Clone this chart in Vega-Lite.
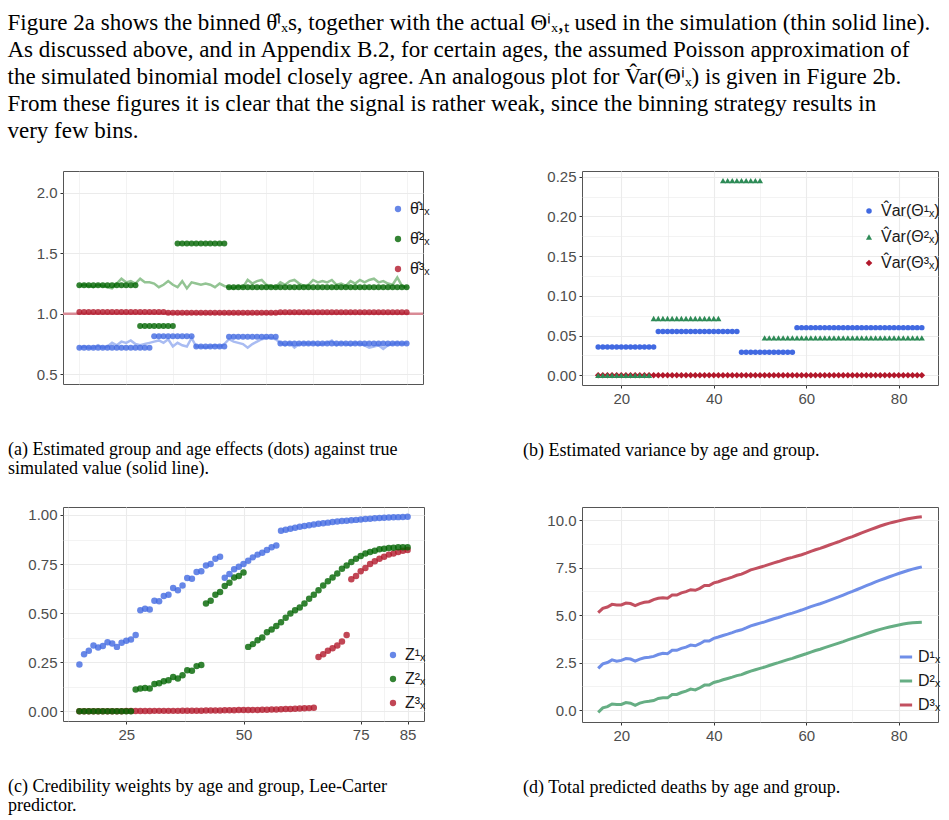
{
"$schema": "https://vega.github.io/schema/vega-lite/v6.json",
"padding": {"left": 7, "top": 12, "right": 4, "bottom": 4},
"background": "white",
"title": {
  "text": [
    "Figure 2a shows the binned θ̂ⁱₓs, together with the actual Θⁱₓ,ₜ used in the simulation (thin solid line).",
    "As discussed above, and in Appendix B.2, for certain ages, the assumed Poisson approximation of",
    "the simulated binomial model closely agree. An analogous plot for V̂ar(Θⁱₓ) is given in Figure 2b.",
    "From these figures it is clear that the signal is rather weak, since the binning strategy results in",
    "very few bins."
  ],
  "anchor": "start", "frame": "bounds", "orient": "top",
  "font": "Liberation Serif", "fontSize": 23, "fontWeight": "normal", "color": "#000000",
  "lineHeight": 27, "offset": 26
},
"config": {
  "view": {"stroke": "#555555", "strokeWidth": 1},
  "axis": {"domain": false, "labelFont": "Liberation Sans", "labelFontSize": 15, "labelColor": "#4D4D4D", "labelPadding": 3, "tickSize": 3, "tickColor": "#333333", "gridColor": "#EBEBEB", "labelOverlap": false, "labelFlush": false},
  "legend": {"labelFont": "Liberation Sans", "labelFontSize": 16, "labelColor": "#1a1a1a"},
  "title": {"font": "Liberation Serif", "fontSize": 18, "fontWeight": "normal", "color": "#000000"}
},
"resolve": {"scale": {"color": "independent", "shape": "independent", "stroke": "independent", "size": "independent"}, "legend": {"color": "independent", "shape": "independent", "stroke": "independent", "size": "independent"}},
"datasets": {
  "hat": [
    {"a":15,"g":1,"y":0.72},{"a":16,"g":1,"y":0.72},{"a":17,"g":1,"y":0.72},{"a":18,"g":1,"y":0.72},{"a":19,"g":1,"y":0.72},{"a":20,"g":1,"y":0.72},{"a":21,"g":1,"y":0.72},{"a":22,"g":1,"y":0.72},{"a":23,"g":1,"y":0.72},{"a":24,"g":1,"y":0.72},{"a":25,"g":1,"y":0.72},{"a":26,"g":1,"y":0.72},{"a":27,"g":1,"y":0.72},{"a":28,"g":1,"y":0.72},{"a":29,"g":1,"y":0.72},{"a":30,"g":1,"y":0.72},
    {"a":31,"g":1,"y":0.815},{"a":32,"g":1,"y":0.815},{"a":33,"g":1,"y":0.815},{"a":34,"g":1,"y":0.815},{"a":35,"g":1,"y":0.815},{"a":36,"g":1,"y":0.815},{"a":37,"g":1,"y":0.815},{"a":38,"g":1,"y":0.815},{"a":39,"g":1,"y":0.815},
    {"a":40,"g":1,"y":0.73},{"a":41,"g":1,"y":0.73},{"a":42,"g":1,"y":0.73},{"a":43,"g":1,"y":0.73},{"a":44,"g":1,"y":0.73},{"a":45,"g":1,"y":0.73},{"a":46,"g":1,"y":0.73},
    {"a":47,"g":1,"y":0.81},{"a":48,"g":1,"y":0.81},{"a":49,"g":1,"y":0.81},{"a":50,"g":1,"y":0.81},{"a":51,"g":1,"y":0.81},{"a":52,"g":1,"y":0.81},{"a":53,"g":1,"y":0.81},{"a":54,"g":1,"y":0.81},{"a":55,"g":1,"y":0.81},{"a":56,"g":1,"y":0.81},{"a":57,"g":1,"y":0.81},
    {"a":58,"g":1,"y":0.755},{"a":59,"g":1,"y":0.755},{"a":60,"g":1,"y":0.755},{"a":61,"g":1,"y":0.755},{"a":62,"g":1,"y":0.755},{"a":63,"g":1,"y":0.755},{"a":64,"g":1,"y":0.755},{"a":65,"g":1,"y":0.755},{"a":66,"g":1,"y":0.755},{"a":67,"g":1,"y":0.755},{"a":68,"g":1,"y":0.755},{"a":69,"g":1,"y":0.755},{"a":70,"g":1,"y":0.755},{"a":71,"g":1,"y":0.755},{"a":72,"g":1,"y":0.755},{"a":73,"g":1,"y":0.755},{"a":74,"g":1,"y":0.755},{"a":75,"g":1,"y":0.755},{"a":76,"g":1,"y":0.755},{"a":77,"g":1,"y":0.755},{"a":78,"g":1,"y":0.755},{"a":79,"g":1,"y":0.755},{"a":80,"g":1,"y":0.755},{"a":81,"g":1,"y":0.755},{"a":82,"g":1,"y":0.755},{"a":83,"g":1,"y":0.755},{"a":84,"g":1,"y":0.755},{"a":85,"g":1,"y":0.755},
    {"a":15,"g":2,"y":1.235},{"a":16,"g":2,"y":1.235},{"a":17,"g":2,"y":1.235},{"a":18,"g":2,"y":1.235},{"a":19,"g":2,"y":1.235},{"a":20,"g":2,"y":1.235},{"a":21,"g":2,"y":1.235},{"a":22,"g":2,"y":1.235},{"a":23,"g":2,"y":1.235},{"a":24,"g":2,"y":1.235},{"a":25,"g":2,"y":1.235},{"a":26,"g":2,"y":1.235},{"a":27,"g":2,"y":1.235},
    {"a":28,"g":2,"y":0.9},{"a":29,"g":2,"y":0.9},{"a":30,"g":2,"y":0.9},{"a":31,"g":2,"y":0.9},{"a":32,"g":2,"y":0.9},{"a":33,"g":2,"y":0.9},{"a":34,"g":2,"y":0.9},{"a":35,"g":2,"y":0.9},
    {"a":36,"g":2,"y":1.58},{"a":37,"g":2,"y":1.58},{"a":38,"g":2,"y":1.58},{"a":39,"g":2,"y":1.58},{"a":40,"g":2,"y":1.58},{"a":41,"g":2,"y":1.58},{"a":42,"g":2,"y":1.58},{"a":43,"g":2,"y":1.58},{"a":44,"g":2,"y":1.58},{"a":45,"g":2,"y":1.58},{"a":46,"g":2,"y":1.58},
    {"a":47,"g":2,"y":1.22},{"a":48,"g":2,"y":1.22},{"a":49,"g":2,"y":1.22},{"a":50,"g":2,"y":1.22},{"a":51,"g":2,"y":1.22},{"a":52,"g":2,"y":1.22},{"a":53,"g":2,"y":1.22},{"a":54,"g":2,"y":1.22},{"a":55,"g":2,"y":1.22},{"a":56,"g":2,"y":1.22},{"a":57,"g":2,"y":1.22},{"a":58,"g":2,"y":1.22},{"a":59,"g":2,"y":1.22},{"a":60,"g":2,"y":1.22},{"a":61,"g":2,"y":1.22},{"a":62,"g":2,"y":1.22},{"a":63,"g":2,"y":1.22},{"a":64,"g":2,"y":1.22},{"a":65,"g":2,"y":1.22},{"a":66,"g":2,"y":1.22},{"a":67,"g":2,"y":1.22},{"a":68,"g":2,"y":1.22},{"a":69,"g":2,"y":1.22},{"a":70,"g":2,"y":1.22},{"a":71,"g":2,"y":1.22},{"a":72,"g":2,"y":1.22},{"a":73,"g":2,"y":1.22},{"a":74,"g":2,"y":1.22},{"a":75,"g":2,"y":1.22},{"a":76,"g":2,"y":1.22},{"a":77,"g":2,"y":1.22},{"a":78,"g":2,"y":1.22},{"a":79,"g":2,"y":1.22},{"a":80,"g":2,"y":1.22},{"a":81,"g":2,"y":1.22},{"a":82,"g":2,"y":1.22},{"a":83,"g":2,"y":1.22},{"a":84,"g":2,"y":1.22},{"a":85,"g":2,"y":1.22},
    {"a":15,"g":3,"y":1.015},{"a":16,"g":3,"y":1.015},{"a":17,"g":3,"y":1.015},{"a":18,"g":3,"y":1.015},{"a":19,"g":3,"y":1.015},{"a":20,"g":3,"y":1.015},{"a":21,"g":3,"y":1.015},{"a":22,"g":3,"y":1.015},{"a":23,"g":3,"y":1.015},{"a":24,"g":3,"y":1.015},{"a":25,"g":3,"y":1.015},{"a":26,"g":3,"y":1.015},{"a":27,"g":3,"y":1.015},{"a":28,"g":3,"y":1.015},{"a":29,"g":3,"y":1.015},{"a":30,"g":3,"y":1.015},{"a":31,"g":3,"y":1.015},{"a":32,"g":3,"y":1.015},{"a":33,"g":3,"y":1.015},
    {"a":34,"g":3,"y":1.008},{"a":35,"g":3,"y":1.008},{"a":36,"g":3,"y":1.008},{"a":37,"g":3,"y":1.008},{"a":38,"g":3,"y":1.008},{"a":39,"g":3,"y":1.008},{"a":40,"g":3,"y":1.008},{"a":41,"g":3,"y":1.008},{"a":42,"g":3,"y":1.008},{"a":43,"g":3,"y":1.008},{"a":44,"g":3,"y":1.008},{"a":45,"g":3,"y":1.008},{"a":46,"g":3,"y":1.008},{"a":47,"g":3,"y":1.008},{"a":48,"g":3,"y":1.008},{"a":49,"g":3,"y":1.008},{"a":50,"g":3,"y":1.008},{"a":51,"g":3,"y":1.008},{"a":52,"g":3,"y":1.008},{"a":53,"g":3,"y":1.008},{"a":54,"g":3,"y":1.008},{"a":55,"g":3,"y":1.008},{"a":56,"g":3,"y":1.008},{"a":57,"g":3,"y":1.008},
    {"a":58,"g":3,"y":1.012},{"a":59,"g":3,"y":1.012},{"a":60,"g":3,"y":1.012},{"a":61,"g":3,"y":1.012},{"a":62,"g":3,"y":1.012},{"a":63,"g":3,"y":1.012},{"a":64,"g":3,"y":1.012},{"a":65,"g":3,"y":1.012},{"a":66,"g":3,"y":1.012},{"a":67,"g":3,"y":1.012},{"a":68,"g":3,"y":1.012},{"a":69,"g":3,"y":1.012},{"a":70,"g":3,"y":1.012},{"a":71,"g":3,"y":1.012},{"a":72,"g":3,"y":1.012},{"a":73,"g":3,"y":1.012},{"a":74,"g":3,"y":1.012},{"a":75,"g":3,"y":1.012},{"a":76,"g":3,"y":1.012},{"a":77,"g":3,"y":1.012},{"a":78,"g":3,"y":1.012},{"a":79,"g":3,"y":1.012},{"a":80,"g":3,"y":1.012},{"a":81,"g":3,"y":1.012},{"a":82,"g":3,"y":1.012},{"a":83,"g":3,"y":1.012},{"a":84,"g":3,"y":1.012},{"a":85,"g":3,"y":1.012}
  ],
  "tru": [
    {"a":15,"g":1,"y":0.72},{"a":16,"g":1,"y":0.73},{"a":17,"g":1,"y":0.72},{"a":18,"g":1,"y":0.72},{"a":19,"g":1,"y":0.74},{"a":20,"g":1,"y":0.72},{"a":21,"g":1,"y":0.73},{"a":22,"g":1,"y":0.76},{"a":23,"g":1,"y":0.74},{"a":24,"g":1,"y":0.77},{"a":25,"g":1,"y":0.76},{"a":26,"g":1,"y":0.78},{"a":27,"g":1,"y":0.75},{"a":28,"g":1,"y":0.74},{"a":29,"g":1,"y":0.75},{"a":30,"g":1,"y":0.76},{"a":31,"g":1,"y":0.77},{"a":32,"g":1,"y":0.78},{"a":33,"g":1,"y":0.76},{"a":34,"g":1,"y":0.79},{"a":35,"g":1,"y":0.73},{"a":36,"g":1,"y":0.76},{"a":37,"g":1,"y":0.74},{"a":38,"g":1,"y":0.73},{"a":39,"g":1,"y":0.8},{"a":40,"g":1,"y":0.73},{"a":41,"g":1,"y":0.73},{"a":42,"g":1,"y":0.72},{"a":43,"g":1,"y":0.73},{"a":44,"g":1,"y":0.74},{"a":45,"g":1,"y":0.73},{"a":46,"g":1,"y":0.75},{"a":47,"g":1,"y":0.79},{"a":48,"g":1,"y":0.77},{"a":49,"g":1,"y":0.76},{"a":50,"g":1,"y":0.75},{"a":51,"g":1,"y":0.72},{"a":52,"g":1,"y":0.75},{"a":53,"g":1,"y":0.77},{"a":54,"g":1,"y":0.79},{"a":55,"g":1,"y":0.8},{"a":56,"g":1,"y":0.8},{"a":57,"g":1,"y":0.79},{"a":58,"g":1,"y":0.76},{"a":59,"g":1,"y":0.74},{"a":60,"g":1,"y":0.76},{"a":61,"g":1,"y":0.72},{"a":62,"g":1,"y":0.75},{"a":63,"g":1,"y":0.76},{"a":64,"g":1,"y":0.75},{"a":65,"g":1,"y":0.76},{"a":66,"g":1,"y":0.74},{"a":67,"g":1,"y":0.75},{"a":68,"g":1,"y":0.76},{"a":69,"g":1,"y":0.78},{"a":70,"g":1,"y":0.74},{"a":71,"g":1,"y":0.76},{"a":72,"g":1,"y":0.75},{"a":73,"g":1,"y":0.74},{"a":74,"g":1,"y":0.76},{"a":75,"g":1,"y":0.75},{"a":76,"g":1,"y":0.74},{"a":77,"g":1,"y":0.72},{"a":78,"g":1,"y":0.73},{"a":79,"g":1,"y":0.74},{"a":80,"g":1,"y":0.71},{"a":81,"g":1,"y":0.74},{"a":82,"g":1,"y":0.75},{"a":83,"g":1,"y":0.76},{"a":84,"g":1,"y":0.75},{"a":85,"g":1,"y":0.76},
    {"a":15,"g":2,"y":1.23},{"a":16,"g":2,"y":1.24},{"a":17,"g":2,"y":1.23},{"a":18,"g":2,"y":1.22},{"a":19,"g":2,"y":1.24},{"a":20,"g":2,"y":1.23},{"a":21,"g":2,"y":1.22},{"a":22,"g":2,"y":1.21},{"a":23,"g":2,"y":1.25},{"a":24,"g":2,"y":1.29},{"a":25,"g":2,"y":1.26},{"a":26,"g":2,"y":1.27},{"a":27,"g":2,"y":1.25},{"a":28,"g":2,"y":1.29},{"a":29,"g":2,"y":1.26},{"a":30,"g":2,"y":1.26},{"a":31,"g":2,"y":1.25},{"a":32,"g":2,"y":1.22},{"a":33,"g":2,"y":1.24},{"a":34,"g":2,"y":1.27},{"a":35,"g":2,"y":1.24},{"a":36,"g":2,"y":1.22},{"a":37,"g":2,"y":1.27},{"a":38,"g":2,"y":1.21},{"a":39,"g":2,"y":1.26},{"a":40,"g":2,"y":1.25},{"a":41,"g":2,"y":1.24},{"a":42,"g":2,"y":1.25},{"a":43,"g":2,"y":1.24},{"a":44,"g":2,"y":1.22},{"a":45,"g":2,"y":1.25},{"a":46,"g":2,"y":1.23},{"a":47,"g":2,"y":1.22},{"a":48,"g":2,"y":1.21},{"a":49,"g":2,"y":1.23},{"a":50,"g":2,"y":1.22},{"a":51,"g":2,"y":1.28},{"a":52,"g":2,"y":1.25},{"a":53,"g":2,"y":1.27},{"a":54,"g":2,"y":1.28},{"a":55,"g":2,"y":1.24},{"a":56,"g":2,"y":1.23},{"a":57,"g":2,"y":1.22},{"a":58,"g":2,"y":1.26},{"a":59,"g":2,"y":1.24},{"a":60,"g":2,"y":1.27},{"a":61,"g":2,"y":1.28},{"a":62,"g":2,"y":1.25},{"a":63,"g":2,"y":1.23},{"a":64,"g":2,"y":1.24},{"a":65,"g":2,"y":1.28},{"a":66,"g":2,"y":1.26},{"a":67,"g":2,"y":1.27},{"a":68,"g":2,"y":1.26},{"a":69,"g":2,"y":1.28},{"a":70,"g":2,"y":1.24},{"a":71,"g":2,"y":1.25},{"a":72,"g":2,"y":1.23},{"a":73,"g":2,"y":1.27},{"a":74,"g":2,"y":1.25},{"a":75,"g":2,"y":1.28},{"a":76,"g":2,"y":1.26},{"a":77,"g":2,"y":1.28},{"a":78,"g":2,"y":1.29},{"a":79,"g":2,"y":1.26},{"a":80,"g":2,"y":1.27},{"a":81,"g":2,"y":1.25},{"a":82,"g":2,"y":1.24},{"a":83,"g":2,"y":1.3},{"a":84,"g":2,"y":1.23},{"a":85,"g":2,"y":1.22}
  ],
  "one": [{"g":3,"y":1}],
  "vr": [
    {"a":15,"g":3,"y":0},{"a":16,"g":3,"y":0},{"a":17,"g":3,"y":0},{"a":18,"g":3,"y":0},{"a":19,"g":3,"y":0},{"a":20,"g":3,"y":0},{"a":21,"g":3,"y":0},{"a":22,"g":3,"y":0},{"a":23,"g":3,"y":0},{"a":24,"g":3,"y":0},{"a":25,"g":3,"y":0},{"a":26,"g":3,"y":0},{"a":27,"g":3,"y":0},{"a":28,"g":3,"y":0},{"a":29,"g":3,"y":0},{"a":30,"g":3,"y":0},{"a":31,"g":3,"y":0},{"a":32,"g":3,"y":0},{"a":33,"g":3,"y":0},{"a":34,"g":3,"y":0},{"a":35,"g":3,"y":0},{"a":36,"g":3,"y":0},{"a":37,"g":3,"y":0},{"a":38,"g":3,"y":0},{"a":39,"g":3,"y":0},{"a":40,"g":3,"y":0},{"a":41,"g":3,"y":0},{"a":42,"g":3,"y":0},{"a":43,"g":3,"y":0},{"a":44,"g":3,"y":0},{"a":45,"g":3,"y":0},{"a":46,"g":3,"y":0},{"a":47,"g":3,"y":0},{"a":48,"g":3,"y":0},{"a":49,"g":3,"y":0},{"a":50,"g":3,"y":0},{"a":51,"g":3,"y":0},{"a":52,"g":3,"y":0},{"a":53,"g":3,"y":0},{"a":54,"g":3,"y":0},{"a":55,"g":3,"y":0},{"a":56,"g":3,"y":0},{"a":57,"g":3,"y":0},{"a":58,"g":3,"y":0},{"a":59,"g":3,"y":0},{"a":60,"g":3,"y":0},{"a":61,"g":3,"y":0},{"a":62,"g":3,"y":0},{"a":63,"g":3,"y":0},{"a":64,"g":3,"y":0},{"a":65,"g":3,"y":0},{"a":66,"g":3,"y":0},{"a":67,"g":3,"y":0},{"a":68,"g":3,"y":0},{"a":69,"g":3,"y":0},{"a":70,"g":3,"y":0},{"a":71,"g":3,"y":0},{"a":72,"g":3,"y":0},{"a":73,"g":3,"y":0},{"a":74,"g":3,"y":0},{"a":75,"g":3,"y":0},{"a":76,"g":3,"y":0},{"a":77,"g":3,"y":0},{"a":78,"g":3,"y":0},{"a":79,"g":3,"y":0},{"a":80,"g":3,"y":0},{"a":81,"g":3,"y":0},{"a":82,"g":3,"y":0},{"a":83,"g":3,"y":0},{"a":84,"g":3,"y":0},{"a":85,"g":3,"y":0},
    {"a":15,"g":1,"y":0.0355},{"a":16,"g":1,"y":0.0355},{"a":17,"g":1,"y":0.0355},{"a":18,"g":1,"y":0.0355},{"a":19,"g":1,"y":0.0355},{"a":20,"g":1,"y":0.0355},{"a":21,"g":1,"y":0.0355},{"a":22,"g":1,"y":0.0355},{"a":23,"g":1,"y":0.0355},{"a":24,"g":1,"y":0.0355},{"a":25,"g":1,"y":0.0355},{"a":26,"g":1,"y":0.0355},{"a":27,"g":1,"y":0.0355},
    {"a":28,"g":1,"y":0.055},{"a":29,"g":1,"y":0.055},{"a":30,"g":1,"y":0.055},{"a":31,"g":1,"y":0.055},{"a":32,"g":1,"y":0.055},{"a":33,"g":1,"y":0.055},{"a":34,"g":1,"y":0.055},{"a":35,"g":1,"y":0.055},{"a":36,"g":1,"y":0.055},{"a":37,"g":1,"y":0.055},{"a":38,"g":1,"y":0.055},{"a":39,"g":1,"y":0.055},{"a":40,"g":1,"y":0.055},{"a":41,"g":1,"y":0.055},{"a":42,"g":1,"y":0.055},{"a":43,"g":1,"y":0.055},{"a":44,"g":1,"y":0.055},{"a":45,"g":1,"y":0.055},
    {"a":46,"g":1,"y":0.029},{"a":47,"g":1,"y":0.029},{"a":48,"g":1,"y":0.029},{"a":49,"g":1,"y":0.029},{"a":50,"g":1,"y":0.029},{"a":51,"g":1,"y":0.029},{"a":52,"g":1,"y":0.029},{"a":53,"g":1,"y":0.029},{"a":54,"g":1,"y":0.029},{"a":55,"g":1,"y":0.029},{"a":56,"g":1,"y":0.029},{"a":57,"g":1,"y":0.029},
    {"a":58,"g":1,"y":0.06},{"a":59,"g":1,"y":0.06},{"a":60,"g":1,"y":0.06},{"a":61,"g":1,"y":0.06},{"a":62,"g":1,"y":0.06},{"a":63,"g":1,"y":0.06},{"a":64,"g":1,"y":0.06},{"a":65,"g":1,"y":0.06},{"a":66,"g":1,"y":0.06},{"a":67,"g":1,"y":0.06},{"a":68,"g":1,"y":0.06},{"a":69,"g":1,"y":0.06},{"a":70,"g":1,"y":0.06},{"a":71,"g":1,"y":0.06},{"a":72,"g":1,"y":0.06},{"a":73,"g":1,"y":0.06},{"a":74,"g":1,"y":0.06},{"a":75,"g":1,"y":0.06},{"a":76,"g":1,"y":0.06},{"a":77,"g":1,"y":0.06},{"a":78,"g":1,"y":0.06},{"a":79,"g":1,"y":0.06},{"a":80,"g":1,"y":0.06},{"a":81,"g":1,"y":0.06},{"a":82,"g":1,"y":0.06},{"a":83,"g":1,"y":0.06},{"a":84,"g":1,"y":0.06},{"a":85,"g":1,"y":0.06},
    {"a":15,"g":2,"y":0},{"a":16,"g":2,"y":0},{"a":17,"g":2,"y":0},{"a":18,"g":2,"y":0},{"a":19,"g":2,"y":0},{"a":20,"g":2,"y":0},{"a":21,"g":2,"y":0},{"a":22,"g":2,"y":0},{"a":23,"g":2,"y":0},{"a":24,"g":2,"y":0},{"a":25,"g":2,"y":0},{"a":26,"g":2,"y":0},
    {"a":27,"g":2,"y":0.0715},{"a":28,"g":2,"y":0.0715},{"a":29,"g":2,"y":0.0715},{"a":30,"g":2,"y":0.0715},{"a":31,"g":2,"y":0.0715},{"a":32,"g":2,"y":0.0715},{"a":33,"g":2,"y":0.0715},{"a":34,"g":2,"y":0.0715},{"a":35,"g":2,"y":0.0715},{"a":36,"g":2,"y":0.0715},{"a":37,"g":2,"y":0.0715},{"a":38,"g":2,"y":0.0715},{"a":39,"g":2,"y":0.0715},{"a":40,"g":2,"y":0.0715},{"a":41,"g":2,"y":0.0715},
    {"a":42,"g":2,"y":0.245},{"a":43,"g":2,"y":0.245},{"a":44,"g":2,"y":0.245},{"a":45,"g":2,"y":0.245},{"a":46,"g":2,"y":0.245},{"a":47,"g":2,"y":0.245},{"a":48,"g":2,"y":0.245},{"a":49,"g":2,"y":0.245},{"a":50,"g":2,"y":0.245},
    {"a":51,"g":2,"y":0.047},{"a":52,"g":2,"y":0.047},{"a":53,"g":2,"y":0.047},{"a":54,"g":2,"y":0.047},{"a":55,"g":2,"y":0.047},{"a":56,"g":2,"y":0.047},{"a":57,"g":2,"y":0.047},{"a":58,"g":2,"y":0.047},{"a":59,"g":2,"y":0.047},{"a":60,"g":2,"y":0.047},{"a":61,"g":2,"y":0.047},{"a":62,"g":2,"y":0.047},{"a":63,"g":2,"y":0.047},{"a":64,"g":2,"y":0.047},{"a":65,"g":2,"y":0.047},{"a":66,"g":2,"y":0.047},{"a":67,"g":2,"y":0.047},{"a":68,"g":2,"y":0.047},{"a":69,"g":2,"y":0.047},{"a":70,"g":2,"y":0.047},{"a":71,"g":2,"y":0.047},{"a":72,"g":2,"y":0.047},{"a":73,"g":2,"y":0.047},{"a":74,"g":2,"y":0.047},{"a":75,"g":2,"y":0.047},{"a":76,"g":2,"y":0.047},{"a":77,"g":2,"y":0.047},{"a":78,"g":2,"y":0.047},{"a":79,"g":2,"y":0.047},{"a":80,"g":2,"y":0.047},{"a":81,"g":2,"y":0.047},{"a":82,"g":2,"y":0.047},{"a":83,"g":2,"y":0.047},{"a":84,"g":2,"y":0.047},{"a":85,"g":2,"y":0.047}
  ],
  "z": [
    {"a":15,"g":3,"y":0},{"a":16,"g":3,"y":0},{"a":17,"g":3,"y":0},{"a":18,"g":3,"y":0},{"a":19,"g":3,"y":0},{"a":20,"g":3,"y":0},{"a":21,"g":3,"y":0},{"a":22,"g":3,"y":0},{"a":23,"g":3,"y":0},{"a":24,"g":3,"y":0},{"a":25,"g":3,"y":0.001},{"a":26,"g":3,"y":0.001},{"a":27,"g":3,"y":0.001},{"a":28,"g":3,"y":0.001},{"a":29,"g":3,"y":0.001},{"a":30,"g":3,"y":0.001},{"a":31,"g":3,"y":0.002},{"a":32,"g":3,"y":0.002},{"a":33,"g":3,"y":0.002},{"a":34,"g":3,"y":0.002},{"a":35,"g":3,"y":0.002},{"a":36,"g":3,"y":0.002},{"a":37,"g":3,"y":0.003},{"a":38,"g":3,"y":0.003},{"a":39,"g":3,"y":0.003},{"a":40,"g":3,"y":0.003},{"a":41,"g":3,"y":0.003},{"a":42,"g":3,"y":0.004},{"a":43,"g":3,"y":0.004},{"a":44,"g":3,"y":0.004},{"a":45,"g":3,"y":0.004},{"a":46,"g":3,"y":0.005},{"a":47,"g":3,"y":0.005},{"a":48,"g":3,"y":0.005},{"a":49,"g":3,"y":0.006},{"a":50,"g":3,"y":0.006},{"a":51,"g":3,"y":0.006},{"a":52,"g":3,"y":0.007},{"a":53,"g":3,"y":0.007},{"a":54,"g":3,"y":0.008},{"a":55,"g":3,"y":0.008},{"a":56,"g":3,"y":0.009},{"a":57,"g":3,"y":0.009},{"a":58,"g":3,"y":0.01},{"a":59,"g":3,"y":0.011},{"a":60,"g":3,"y":0.012},{"a":61,"g":3,"y":0.013},{"a":62,"g":3,"y":0.014},{"a":63,"g":3,"y":0.015},{"a":64,"g":3,"y":0.016},{"a":65,"g":3,"y":0.018},
    {"a":66,"g":3,"y":0.277},{"a":67,"g":3,"y":0.291},{"a":68,"g":3,"y":0.308},{"a":69,"g":3,"y":0.321},{"a":70,"g":3,"y":0.335},{"a":71,"g":3,"y":0.355},{"a":72,"g":3,"y":0.389},
    {"a":73,"g":3,"y":0.672},{"a":74,"g":3,"y":0.689},{"a":75,"g":3,"y":0.713},{"a":76,"g":3,"y":0.73},{"a":77,"g":3,"y":0.75},{"a":78,"g":3,"y":0.764},{"a":79,"g":3,"y":0.777},{"a":80,"g":3,"y":0.787},{"a":81,"g":3,"y":0.798},{"a":82,"g":3,"y":0.804},{"a":83,"g":3,"y":0.811},{"a":84,"g":3,"y":0.818},{"a":85,"g":3,"y":0.821},
    {"a":15,"g":2,"y":0},{"a":16,"g":2,"y":0},{"a":17,"g":2,"y":0},{"a":18,"g":2,"y":0},{"a":19,"g":2,"y":0},{"a":20,"g":2,"y":0},{"a":21,"g":2,"y":0},{"a":22,"g":2,"y":0},{"a":23,"g":2,"y":0},{"a":24,"g":2,"y":0},{"a":25,"g":2,"y":0},{"a":26,"g":2,"y":0},
    {"a":27,"g":2,"y":0.111},{"a":28,"g":2,"y":0.116},{"a":29,"g":2,"y":0.119},{"a":30,"g":2,"y":0.116},{"a":31,"g":2,"y":0.139},{"a":32,"g":2,"y":0.143},{"a":33,"g":2,"y":0.153},{"a":34,"g":2,"y":0.158},{"a":35,"g":2,"y":0.175},{"a":36,"g":2,"y":0.167},{"a":37,"g":2,"y":0.184},{"a":38,"g":2,"y":0.209},{"a":39,"g":2,"y":0.206},{"a":40,"g":2,"y":0.23},{"a":41,"g":2,"y":0.236},
    {"a":42,"g":2,"y":0.549},{"a":43,"g":2,"y":0.563},{"a":44,"g":2,"y":0.594},{"a":45,"g":2,"y":0.607},{"a":46,"g":2,"y":0.638},{"a":47,"g":2,"y":0.655},{"a":48,"g":2,"y":0.682},{"a":49,"g":2,"y":0.689},{"a":50,"g":2,"y":0.707},
    {"a":51,"g":2,"y":0.328},{"a":52,"g":2,"y":0.342},{"a":53,"g":2,"y":0.362},{"a":54,"g":2,"y":0.376},{"a":55,"g":2,"y":0.403},{"a":56,"g":2,"y":0.417},{"a":57,"g":2,"y":0.434},{"a":58,"g":2,"y":0.454},{"a":59,"g":2,"y":0.476},{"a":60,"g":2,"y":0.498},{"a":61,"g":2,"y":0.515},{"a":62,"g":2,"y":0.529},{"a":63,"g":2,"y":0.549},{"a":64,"g":2,"y":0.573},{"a":65,"g":2,"y":0.594},{"a":66,"g":2,"y":0.617},{"a":67,"g":2,"y":0.641},{"a":68,"g":2,"y":0.662},{"a":69,"g":2,"y":0.682},{"a":70,"g":2,"y":0.702},{"a":71,"g":2,"y":0.726},{"a":72,"g":2,"y":0.743},{"a":73,"g":2,"y":0.76},{"a":74,"g":2,"y":0.777},{"a":75,"g":2,"y":0.791},{"a":76,"g":2,"y":0.804},{"a":77,"g":2,"y":0.811},{"a":78,"g":2,"y":0.818},{"a":79,"g":2,"y":0.825},{"a":80,"g":2,"y":0.828},{"a":81,"g":2,"y":0.832},{"a":82,"g":2,"y":0.833},{"a":83,"g":2,"y":0.835},{"a":84,"g":2,"y":0.835},{"a":85,"g":2,"y":0.835},
    {"a":15,"g":1,"y":0.238},{"a":16,"g":1,"y":0.291},{"a":17,"g":1,"y":0.308},{"a":18,"g":1,"y":0.335},{"a":19,"g":1,"y":0.325},{"a":20,"g":1,"y":0.332},{"a":21,"g":1,"y":0.352},{"a":22,"g":1,"y":0.345},{"a":23,"g":1,"y":0.328},{"a":24,"g":1,"y":0.349},{"a":25,"g":1,"y":0.359},{"a":26,"g":1,"y":0.366},{"a":27,"g":1,"y":0.389},
    {"a":28,"g":1,"y":0.515},{"a":29,"g":1,"y":0.522},{"a":30,"g":1,"y":0.519},{"a":31,"g":1,"y":0.563},{"a":32,"g":1,"y":0.56},{"a":33,"g":1,"y":0.587},{"a":34,"g":1,"y":0.594},{"a":35,"g":1,"y":0.628},{"a":36,"g":1,"y":0.617},{"a":37,"g":1,"y":0.641},{"a":38,"g":1,"y":0.679},{"a":39,"g":1,"y":0.675},{"a":40,"g":1,"y":0.709},{"a":41,"g":1,"y":0.713},{"a":42,"g":1,"y":0.743},{"a":43,"g":1,"y":0.75},{"a":44,"g":1,"y":0.777},{"a":45,"g":1,"y":0.787},
    {"a":46,"g":1,"y":0.68},{"a":47,"g":1,"y":0.699},{"a":48,"g":1,"y":0.723},{"a":49,"g":1,"y":0.736},{"a":50,"g":1,"y":0.75},{"a":51,"g":1,"y":0.767},{"a":52,"g":1,"y":0.784},{"a":53,"g":1,"y":0.798},{"a":54,"g":1,"y":0.808},{"a":55,"g":1,"y":0.821},{"a":56,"g":1,"y":0.835},{"a":57,"g":1,"y":0.844},
    {"a":58,"g":1,"y":0.92},{"a":59,"g":1,"y":0.925},{"a":60,"g":1,"y":0.93},{"a":61,"g":1,"y":0.935},{"a":62,"g":1,"y":0.94},{"a":63,"g":1,"y":0.944},{"a":64,"g":1,"y":0.948},{"a":65,"g":1,"y":0.952},{"a":66,"g":1,"y":0.955},{"a":67,"g":1,"y":0.958},{"a":68,"g":1,"y":0.961},{"a":69,"g":1,"y":0.964},{"a":70,"g":1,"y":0.967},{"a":71,"g":1,"y":0.969},{"a":72,"g":1,"y":0.971},{"a":73,"g":1,"y":0.973},{"a":74,"g":1,"y":0.975},{"a":75,"g":1,"y":0.977},{"a":76,"g":1,"y":0.979},{"a":77,"g":1,"y":0.981},{"a":78,"g":1,"y":0.983},{"a":79,"g":1,"y":0.984},{"a":80,"g":1,"y":0.986},{"a":81,"g":1,"y":0.987},{"a":82,"g":1,"y":0.988},{"a":83,"g":1,"y":0.989},{"a":84,"g":1,"y":0.99},{"a":85,"g":1,"y":0.991}
  ],
  "dd": [
    {"a":15,"g":1,"y":2.2},{"a":16,"g":1,"y":2.44},{"a":17,"g":1,"y":2.51},{"a":18,"g":1,"y":2.65},{"a":19,"g":1,"y":2.58},{"a":20,"g":1,"y":2.62},{"a":21,"g":1,"y":2.72},{"a":22,"g":1,"y":2.69},{"a":23,"g":1,"y":2.58},{"a":24,"g":1,"y":2.69},{"a":25,"g":1,"y":2.76},{"a":26,"g":1,"y":2.79},{"a":27,"g":1,"y":2.83},{"a":28,"g":1,"y":2.93},{"a":29,"g":1,"y":3.0},{"a":30,"g":1,"y":2.97},{"a":31,"g":1,"y":3.15},{"a":32,"g":1,"y":3.15},{"a":33,"g":1,"y":3.25},{"a":34,"g":1,"y":3.32},{"a":35,"g":1,"y":3.43},{"a":36,"g":1,"y":3.39},{"a":37,"g":1,"y":3.5},{"a":38,"g":1,"y":3.64},{"a":39,"g":1,"y":3.64},{"a":40,"g":1,"y":3.78},{"a":41,"g":1,"y":3.85},{"a":42,"g":1,"y":3.93},{"a":43,"g":1,"y":4.0},{"a":44,"g":1,"y":4.08},{"a":45,"g":1,"y":4.17},{"a":46,"g":1,"y":4.23},{"a":47,"g":1,"y":4.33},{"a":48,"g":1,"y":4.44},{"a":49,"g":1,"y":4.51},{"a":50,"g":1,"y":4.58},{"a":51,"g":1,"y":4.65},{"a":52,"g":1,"y":4.73},{"a":53,"g":1,"y":4.81},{"a":54,"g":1,"y":4.88},{"a":55,"g":1,"y":4.96},{"a":56,"g":1,"y":5.04},{"a":57,"g":1,"y":5.11},{"a":58,"g":1,"y":5.19},{"a":59,"g":1,"y":5.27},{"a":60,"g":1,"y":5.36},{"a":61,"g":1,"y":5.45},{"a":62,"g":1,"y":5.53},{"a":63,"g":1,"y":5.6},{"a":64,"g":1,"y":5.69},{"a":65,"g":1,"y":5.78},{"a":66,"g":1,"y":5.87},{"a":67,"g":1,"y":5.96},{"a":68,"g":1,"y":6.06},{"a":69,"g":1,"y":6.16},{"a":70,"g":1,"y":6.25},{"a":71,"g":1,"y":6.35},{"a":72,"g":1,"y":6.45},{"a":73,"g":1,"y":6.55},{"a":74,"g":1,"y":6.65},{"a":75,"g":1,"y":6.75},{"a":76,"g":1,"y":6.84},{"a":77,"g":1,"y":6.93},{"a":78,"g":1,"y":7.02},{"a":79,"g":1,"y":7.11},{"a":80,"g":1,"y":7.19},{"a":81,"g":1,"y":7.27},{"a":82,"g":1,"y":7.35},{"a":83,"g":1,"y":7.42},{"a":84,"g":1,"y":7.48},{"a":85,"g":1,"y":7.54},
    {"a":15,"g":2,"y":-0.11},{"a":16,"g":2,"y":0.12},{"a":17,"g":2,"y":0.19},{"a":18,"g":2,"y":0.33},{"a":19,"g":2,"y":0.3},{"a":20,"g":2,"y":0.3},{"a":21,"g":2,"y":0.4},{"a":22,"g":2,"y":0.37},{"a":23,"g":2,"y":0.26},{"a":24,"g":2,"y":0.37},{"a":25,"g":2,"y":0.44},{"a":26,"g":2,"y":0.47},{"a":27,"g":2,"y":0.51},{"a":28,"g":2,"y":0.62},{"a":29,"g":2,"y":0.65},{"a":30,"g":2,"y":0.65},{"a":31,"g":2,"y":0.83},{"a":32,"g":2,"y":0.83},{"a":33,"g":2,"y":0.93},{"a":34,"g":2,"y":1.0},{"a":35,"g":2,"y":1.11},{"a":36,"g":2,"y":1.07},{"a":37,"g":2,"y":1.18},{"a":38,"g":2,"y":1.32},{"a":39,"g":2,"y":1.32},{"a":40,"g":2,"y":1.46},{"a":41,"g":2,"y":1.52},{"a":42,"g":2,"y":1.6},{"a":43,"g":2,"y":1.67},{"a":44,"g":2,"y":1.74},{"a":45,"g":2,"y":1.82},{"a":46,"g":2,"y":1.87},{"a":47,"g":2,"y":1.97},{"a":48,"g":2,"y":2.06},{"a":49,"g":2,"y":2.13},{"a":50,"g":2,"y":2.2},{"a":51,"g":2,"y":2.27},{"a":52,"g":2,"y":2.35},{"a":53,"g":2,"y":2.43},{"a":54,"g":2,"y":2.5},{"a":55,"g":2,"y":2.58},{"a":56,"g":2,"y":2.66},{"a":57,"g":2,"y":2.73},{"a":58,"g":2,"y":2.81},{"a":59,"g":2,"y":2.89},{"a":60,"g":2,"y":2.97},{"a":61,"g":2,"y":3.06},{"a":62,"g":2,"y":3.14},{"a":63,"g":2,"y":3.21},{"a":64,"g":2,"y":3.29},{"a":65,"g":2,"y":3.37},{"a":66,"g":2,"y":3.45},{"a":67,"g":2,"y":3.53},{"a":68,"g":2,"y":3.61},{"a":69,"g":2,"y":3.7},{"a":70,"g":2,"y":3.78},{"a":71,"g":2,"y":3.86},{"a":72,"g":2,"y":3.94},{"a":73,"g":2,"y":4.02},{"a":74,"g":2,"y":4.1},{"a":75,"g":2,"y":4.18},{"a":76,"g":2,"y":4.25},{"a":77,"g":2,"y":4.32},{"a":78,"g":2,"y":4.38},{"a":79,"g":2,"y":4.43},{"a":80,"g":2,"y":4.48},{"a":81,"g":2,"y":4.53},{"a":82,"g":2,"y":4.57},{"a":83,"g":2,"y":4.6},{"a":84,"g":2,"y":4.62},{"a":85,"g":2,"y":4.63},
    {"a":15,"g":3,"y":5.13},{"a":16,"g":3,"y":5.36},{"a":17,"g":3,"y":5.43},{"a":18,"g":3,"y":5.57},{"a":19,"g":3,"y":5.54},{"a":20,"g":3,"y":5.54},{"a":21,"g":3,"y":5.64},{"a":22,"g":3,"y":5.61},{"a":23,"g":3,"y":5.5},{"a":24,"g":3,"y":5.61},{"a":25,"g":3,"y":5.68},{"a":26,"g":3,"y":5.71},{"a":27,"g":3,"y":5.82},{"a":28,"g":3,"y":5.89},{"a":29,"g":3,"y":5.92},{"a":30,"g":3,"y":5.89},{"a":31,"g":3,"y":6.06},{"a":32,"g":3,"y":6.06},{"a":33,"g":3,"y":6.17},{"a":34,"g":3,"y":6.24},{"a":35,"g":3,"y":6.34},{"a":36,"g":3,"y":6.31},{"a":37,"g":3,"y":6.41},{"a":38,"g":3,"y":6.56},{"a":39,"g":3,"y":6.56},{"a":40,"g":3,"y":6.7},{"a":41,"g":3,"y":6.76},{"a":42,"g":3,"y":6.85},{"a":43,"g":3,"y":6.92},{"a":44,"g":3,"y":7.0},{"a":45,"g":3,"y":7.1},{"a":46,"g":3,"y":7.16},{"a":47,"g":3,"y":7.27},{"a":48,"g":3,"y":7.38},{"a":49,"g":3,"y":7.45},{"a":50,"g":3,"y":7.52},{"a":51,"g":3,"y":7.59},{"a":52,"g":3,"y":7.67},{"a":53,"g":3,"y":7.75},{"a":54,"g":3,"y":7.82},{"a":55,"g":3,"y":7.9},{"a":56,"g":3,"y":7.98},{"a":57,"g":3,"y":8.04},{"a":58,"g":3,"y":8.11},{"a":59,"g":3,"y":8.18},{"a":60,"g":3,"y":8.26},{"a":61,"g":3,"y":8.36},{"a":62,"g":3,"y":8.44},{"a":63,"g":3,"y":8.51},{"a":64,"g":3,"y":8.6},{"a":65,"g":3,"y":8.69},{"a":66,"g":3,"y":8.78},{"a":67,"g":3,"y":8.86},{"a":68,"g":3,"y":8.96},{"a":69,"g":3,"y":9.05},{"a":70,"g":3,"y":9.13},{"a":71,"g":3,"y":9.23},{"a":72,"g":3,"y":9.33},{"a":73,"g":3,"y":9.42},{"a":74,"g":3,"y":9.51},{"a":75,"g":3,"y":9.6},{"a":76,"g":3,"y":9.69},{"a":77,"g":3,"y":9.77},{"a":78,"g":3,"y":9.84},{"a":79,"g":3,"y":9.9},{"a":80,"g":3,"y":9.96},{"a":81,"g":3,"y":10.02},{"a":82,"g":3,"y":10.07},{"a":83,"g":3,"y":10.11},{"a":84,"g":3,"y":10.15},{"a":85,"g":3,"y":10.18}
  ]
},
"columns": 2,
"bounds": "flush",
"align": "each",
"spacing": {"row": 122, "column": 158},
"concat": [
  {
    "width": 360, "height": 213,
    "view": {"stroke": "#555555", "strokeWidth": 1},
    "title": {"text": ["(a) Estimated group and age effects (dots) against true", "simulated value (solid line)."], "orient": "bottom", "anchor": "start", "frame": "group", "dx": -55, "offset": 36, "baseline": "top", "lineHeight": 19, "fontSize": 18},
    "layer": [
      {
        "data": {"name": "tru"},
        "mark": {"type": "line", "strokeWidth": 2.5},
        "encoding": {
          "x": {"field": "a", "type": "quantitative", "scale": {"domain": [11.5, 88.5], "nice": false, "zero": false},
            "axis": {"title": null, "values": [15,20,25,30,35,40,45,50,55,60,65,70,75,80,85],
              "labelExpr": "datum.value % 10 == 0 ? datum.label : ''",
              "tickOpacity": {"condition": {"test": "datum.value % 10 == 0", "value": 1}, "value": 0},
              "gridWidth": {"condition": {"test": "datum.value % 10 == 0", "value": 1.1}, "value": 0.6}}},
          "y": {"field": "y", "type": "quantitative", "scale": {"domain": [0.42, 2.18], "nice": false, "zero": false},
            "axis": {"title": null, "values": [0.5,0.75,1,1.25,1.5,1.75,2], "format": ".1f",
              "labelExpr": "round(datum.value*100) % 50 == 0 ? datum.label : ''",
              "tickOpacity": {"condition": {"test": "round(datum.value*100) % 50 == 0", "value": 1}, "value": 0},
              "gridWidth": {"condition": {"test": "round(datum.value*100) % 50 == 0", "value": 1.1}, "value": 0.6}}},
          "stroke": {"field": "g", "type": "nominal", "scale": {"domain": [1, 2], "range": ["#A9BCF2", "#93C493"]}, "legend": null}
        }
      },
      {
        "data": {"name": "one"},
        "mark": {"type": "rule", "color": "#D98B96", "strokeWidth": 2.5},
        "encoding": {"y": {"field": "y", "type": "quantitative"}}
      },
      {
        "data": {"name": "hat"},
        "mark": {"type": "circle", "size": 36, "opacity": 0.8},
        "encoding": {
          "x": {"field": "a", "type": "quantitative"},
          "y": {"field": "y", "type": "quantitative"},
          "color": {"field": "g", "type": "nominal", "scale": {"domain": [1, 2, 3], "range": ["#4169E1", "#006400", "#B2182B"]},
            "legend": {"title": null, "orient": "none", "legendX": 327, "legendY": 30, "rowPadding": 14, "symbolSize": 40,
              "labelExpr": "datum.value == 1 ? 'θ̂¹ₓ' : datum.value == 2 ? 'θ̂²ₓ' : 'θ̂³ₓ'"}}
        }
      }
    ]
  },
  {
    "width": 356, "height": 214,
    "view": {"stroke": "#555555", "strokeWidth": 1},
    "title": {"text": "(b) Estimated variance by age and group.", "orient": "bottom", "anchor": "start", "frame": "group", "dx": -59, "offset": 36, "baseline": "top", "fontSize": 18},
    "data": {"name": "vr"},
    "mark": {"type": "point", "filled": true, "opacity": 1},
    "encoding": {
      "x": {"field": "a", "type": "quantitative", "scale": {"domain": [11.5, 88.5], "nice": false, "zero": false},
        "axis": {"title": null, "values": [20,30,40,50,60,70,80],
          "labelExpr": "datum.value % 20 == 0 ? datum.label : ''",
          "tickOpacity": {"condition": {"test": "datum.value % 20 == 0", "value": 1}, "value": 0},
          "gridWidth": {"condition": {"test": "datum.value % 20 == 0", "value": 1.1}, "value": 0.6}}},
      "y": {"field": "y", "type": "quantitative", "scale": {"domain": [-0.01225, 0.25725], "nice": false, "zero": false},
        "axis": {"title": null, "values": [0,0.025,0.05,0.075,0.1,0.125,0.15,0.175,0.2,0.225,0.25], "format": ".2f",
          "labelExpr": "round(datum.value*1000) % 50 == 0 ? datum.label : ''",
          "tickOpacity": {"condition": {"test": "round(datum.value*1000) % 50 == 0", "value": 1}, "value": 0},
          "gridWidth": {"condition": {"test": "round(datum.value*1000) % 50 == 0", "value": 1.1}, "value": 0.6}}},
      "color": {"field": "g", "type": "nominal", "scale": {"domain": [1, 2, 3], "range": ["#4169E1", "#2E8B57", "#B2182B"]},
        "legend": {"title": null, "orient": "none", "legendX": 279, "legendY": 32, "rowPadding": 10,
          "labelExpr": "datum.value == 1 ? 'V̂ar(Θ¹ₓ)' : datum.value == 2 ? 'V̂ar(Θ²ₓ)' : 'V̂ar(Θ³ₓ)'"}},
      "shape": {"field": "g", "type": "nominal", "scale": {"domain": [1, 2, 3], "range": ["circle", "triangle-up", "diamond"]},
        "legend": {"title": null, "orient": "none", "legendX": 279, "legendY": 32, "rowPadding": 10,
          "labelExpr": "datum.value == 1 ? 'V̂ar(Θ¹ₓ)' : datum.value == 2 ? 'V̂ar(Θ²ₓ)' : 'V̂ar(Θ³ₓ)'"}},
      "size": {"field": "g", "type": "nominal", "scale": {"domain": [1, 2, 3], "range": [30, 44, 18]},
        "legend": {"title": null, "orient": "none", "legendX": 279, "legendY": 32, "rowPadding": 10,
          "labelExpr": "datum.value == 1 ? 'V̂ar(Θ¹ₓ)' : datum.value == 2 ? 'V̂ar(Θ²ₓ)' : 'V̂ar(Θ³ₓ)'"}}
    }
  },
  {
    "width": 361, "height": 214,
    "view": {"stroke": "#555555", "strokeWidth": 1},
    "title": {"text": ["(c) Credibility weights by age and group, Lee-Carter", "predictor."], "orient": "bottom", "anchor": "start", "frame": "group", "dx": -55, "offset": 36, "baseline": "top", "lineHeight": 19, "fontSize": 18},
    "data": {"name": "z"},
    "mark": {"type": "circle", "size": 42, "opacity": 0.8},
    "encoding": {
      "x": {"field": "a", "type": "quantitative", "scale": {"domain": [11.5, 88.5], "nice": false, "zero": false},
        "axis": {"title": null, "values": [12.5,25,37.5,50,62.5,75,80,85],
          "labelExpr": "datum.value == 25 || datum.value == 50 || datum.value == 75 || datum.value == 85 ? datum.label : ''",
          "tickOpacity": {"condition": {"test": "datum.value == 25 || datum.value == 50 || datum.value == 75 || datum.value == 85", "value": 1}, "value": 0},
          "gridWidth": {"condition": {"test": "datum.value == 25 || datum.value == 50 || datum.value == 75 || datum.value == 85", "value": 1.1}, "value": 0.6}}},
      "y": {"field": "y", "type": "quantitative", "scale": {"domain": [-0.0496, 1.0406], "nice": false, "zero": false},
        "axis": {"title": null, "values": [0,0.125,0.25,0.375,0.5,0.625,0.75,0.875,1], "format": ".2f",
          "labelExpr": "round(datum.value*1000) % 250 == 0 ? datum.label : ''",
          "tickOpacity": {"condition": {"test": "round(datum.value*1000) % 250 == 0", "value": 1}, "value": 0},
          "gridWidth": {"condition": {"test": "round(datum.value*1000) % 250 == 0", "value": 1.1}, "value": 0.6}}},
      "color": {"field": "g", "type": "nominal", "scale": {"domain": [1, 2, 3], "range": ["#4169E1", "#006400", "#B2182B"]},
        "legend": {"title": null, "orient": "none", "legendX": 322, "legendY": 140, "rowPadding": 8, "symbolSize": 40,
          "labelExpr": "datum.value == 1 ? 'Z¹ₓ' : datum.value == 2 ? 'Z²ₓ' : 'Z³ₓ'"}}
    }
  },
  {
    "width": 356, "height": 215,
    "view": {"stroke": "#555555", "strokeWidth": 1},
    "title": {"text": "(d) Total predicted deaths by age and group.", "orient": "bottom", "anchor": "start", "frame": "group", "dx": -59, "offset": 36, "baseline": "top", "fontSize": 18},
    "data": {"name": "dd"},
    "mark": {"type": "line", "strokeWidth": 3},
    "encoding": {
      "x": {"field": "a", "type": "quantitative", "scale": {"domain": [11.5, 88.5], "nice": false, "zero": false},
        "axis": {"title": null, "values": [20,30,40,50,60,70,80],
          "labelExpr": "datum.value % 20 == 0 ? datum.label : ''",
          "tickOpacity": {"condition": {"test": "datum.value % 20 == 0", "value": 1}, "value": 0},
          "gridWidth": {"condition": {"test": "datum.value % 20 == 0", "value": 1.1}, "value": 0.6}}},
      "y": {"field": "y", "type": "quantitative", "scale": {"domain": [-0.62, 10.69], "nice": false, "zero": false},
        "axis": {"title": null, "values": [0,1.25,2.5,3.75,5,6.25,7.5,8.75,10], "format": ".1f",
          "labelExpr": "round(datum.value*100) % 250 == 0 ? datum.label : ''",
          "tickOpacity": {"condition": {"test": "round(datum.value*100) % 250 == 0", "value": 1}, "value": 0},
          "gridWidth": {"condition": {"test": "round(datum.value*100) % 250 == 0", "value": 1.1}, "value": 0.6}}},
      "color": {"field": "g", "type": "nominal", "scale": {"domain": [1, 2, 3], "range": ["#6F8EE8", "#66AE84", "#C25060"]},
        "legend": {"title": null, "orient": "none", "legendX": 316, "legendY": 142, "rowPadding": 8, "symbolStrokeWidth": 3, "symbolSize": 150,
          "labelExpr": "datum.value == 1 ? 'D¹ₓ' : datum.value == 2 ? 'D²ₓ' : 'D³ₓ'"}}
    }
  }
]
}
